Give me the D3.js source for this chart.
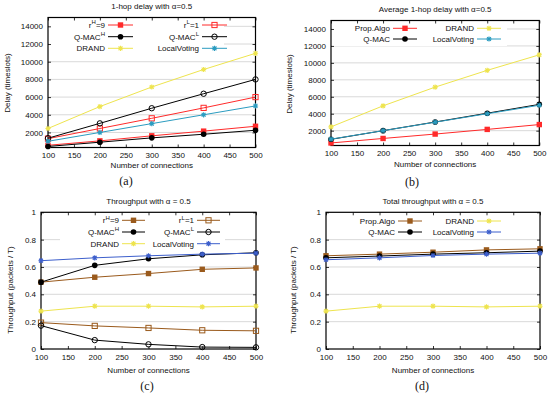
<!DOCTYPE html>
<html>
<head>
<meta charset="utf-8">
<script src="https://cdn.jsdelivr.net/npm/d3@7"></script>
<style>
  body { margin: 0; background: #fff; }
  svg text { font-family: "Liberation Sans", Arial, sans-serif; }
  .sub { font-family: "Liberation Serif", "DejaVu Serif", serif; }
</style>
</head>
<body>
<div id="chart"></div>
<script>
// x values shared by every panel
var connections = [100, 200, 300, 400, 500];
var xTicks = [100, 150, 200, 250, 300, 350, 400, 450, 500];
var delayTicks = [2000, 4000, 6000, 8000, 10000, 12000, 14000];
var thrTicks = [0, 0.2, 0.4, 0.6, 0.8, 1];

// (a) 1-hop delay
var delayRH = [550, 1050, 1620, 2150, 2700];
var delayRL = [1300, 2450, 3600, 4780, 6000];
var delayQmacH = [420, 900, 1390, 1800, 2250];
var delayQmacL = [1350, 3030, 4740, 6380, 8000];
var delayDrand = [2450, 4930, 7140, 9120, 10950];
var delayLocalVoting = [1000, 2000, 3000, 4000, 5000];

// (b) average 1-hop delay
var avgDelayProp = [550, 1080, 1600, 2150, 2720];
var avgDelayQmac = [980, 2000, 3020, 4060, 5100];
var avgDelayDrand = [2450, 4930, 7140, 9120, 10950];
var avgDelayLocalVoting = [1000, 2000, 3000, 4000, 5000];

// (c) throughput
var thrRH = [0.489, 0.525, 0.552, 0.583, 0.593];
var thrRL = [0.193, 0.169, 0.154, 0.137, 0.133];
var thrQmacH = [0.489, 0.612, 0.660, 0.689, 0.704];
var thrQmacL = [0.171, 0.065, 0.034, 0.014, 0.012];
var thrDrand = [0.277, 0.313, 0.313, 0.308, 0.313];
var thrLocalVoting = [0.646, 0.667, 0.682, 0.694, 0.701];

// (d) total throughput
var totProp = [0.682, 0.694, 0.708, 0.725, 0.733];
var totQmac = [0.667, 0.680, 0.694, 0.704, 0.716];
var totDrand = [0.277, 0.313, 0.313, 0.308, 0.313];
var totLocalVoting = [0.653, 0.667, 0.684, 0.694, 0.701];

var RED = "#ff2a2a", BLACK = "#000", YELLOW = "#eee44e", TEAL = "#2b9cc0",
    BLUE = "#3d5fcc", BROWN = "#9a5a1c";

var svg = d3.select("#chart").append("svg")
  .attr("width", 550).attr("height", 394);

function drawMarker(g, type, color, x, y) {
  if (type == "fsq") {
    g.append("rect").attr("x", x - 2.7).attr("y", y - 2.7).attr("width", 5.4).attr("height", 5.4).attr("fill", color);
  } else if (type == "osq") {
    g.append("rect").attr("x", x - 2.6).attr("y", y - 2.6).attr("width", 5.2).attr("height", 5.2)
      .attr("fill", "none").attr("stroke", color).attr("stroke-width", 1);
  } else if (type == "fci") {
    g.append("circle").attr("cx", x).attr("cy", y).attr("r", 2.8).attr("fill", color);
  } else if (type == "oci") {
    g.append("circle").attr("cx", x).attr("cy", y).attr("r", 2.7)
      .attr("fill", "none").attr("stroke", color).attr("stroke-width", 1);
  } else if (type == "star") {
    var s = 2.6;
    g.append("path")
      .attr("d", `M${x - s},${y}H${x + s}M${x},${y - s}V${y + s}M${x - s * 0.75},${y - s * 0.75}L${x + s * 0.75},${y + s * 0.75}M${x - s * 0.75},${y + s * 0.75}L${x + s * 0.75},${y - s * 0.75}`)
      .attr("stroke", color).attr("stroke-width", 1.1);
  }
}

function addLabel(t, label) {
  // label with optional superscript written as "base^sup^rest"
  var parts = label.split("^");
  t.append("tspan").text(parts[0]);
  if (parts.length > 1) {
    t.append("tspan").attr("font-size", "6px").attr("dy", "-3.5").text(parts[1]);
    if (parts[2]) t.append("tspan").attr("dy", "3.5").text(parts[2]);
  }
}

function drawPanel(p) {
  var g = svg.append("g");
  var x = d3.scaleLinear().domain([100, 500]).range([p.left, p.right]);
  var y = d3.scaleLinear().domain(p.yDomain).range([p.bottom, p.top]);

  // grid lines
  g.selectAll(".grid").data(p.yTicks.filter(d => y(d) > p.top + 1 && y(d) < p.bottom - 1))
    .enter().append("line")
    .attr("x1", p.left).attr("x2", p.right)
    .attr("y1", d => y(d)).attr("y2", d => y(d))
    .attr("stroke", "#cfcfcf").attr("stroke-width", 0.8);

  // legend background
  g.append("rect").attr("x", p.legBox[0]).attr("y", p.legBox[1])
    .attr("width", p.legBox[2]).attr("height", p.legBox[3]).attr("fill", "#fff");

  // axes (inward ticks, mirrored)
  var fmt = p.yFormat;
  g.append("g").attr("transform", `translate(0,${p.bottom})`)
    .call(d3.axisBottom(x).tickValues(xTicks).tickSize(-3).tickPadding(5).tickFormat(d3.format("d")));
  g.append("g").attr("transform", `translate(0,${p.top})`)
    .call(d3.axisTop(x).tickValues(xTicks).tickSize(-3).tickFormat(""));
  g.append("g").attr("transform", `translate(${p.left},0)`)
    .call(d3.axisLeft(y).tickValues(p.yTicks).tickSize(-3).tickPadding(5).tickFormat(fmt));
  g.append("g").attr("transform", `translate(${p.right},0)`)
    .call(d3.axisRight(y).tickValues(p.yTicks).tickSize(-3).tickFormat(""));
  g.selectAll(".domain").remove();
  g.selectAll(".tick line").attr("stroke", "#000").attr("stroke-width", 0.8);
  g.selectAll(".tick text").attr("font-size", "8px").attr("fill", "#111");

  // frame
  g.append("rect").attr("x", p.left).attr("y", p.top)
    .attr("width", p.right - p.left).attr("height", p.bottom - p.top)
    .attr("fill", "none").attr("stroke", "#000").attr("stroke-width", 1.2);

  // series
  var line = d3.line().x((d, i) => x(connections[i])).y(d => y(d));
  p.series.forEach(function(s) {
    g.append("path").datum(s.values).attr("d", line)
      .attr("fill", "none").attr("stroke", s.color).attr("stroke-width", 1);
    s.values.forEach(function(v, i) { drawMarker(g, s.marker, s.color, x(connections[i]), y(v)); });
  });

  // legend
  p.series.forEach(function(s, i) {
    var col = i % 2, row = Math.floor(i / 2);
    var ly = p.legRows[row];
    var lx = p.legCols[col];
    var t = g.append("text").attr("x", lx).attr("y", ly).attr("dy", "0.35em")
      .attr("text-anchor", "end").attr("font-size", "8px").attr("fill", "#111");
    addLabel(t, s.label);
    g.append("line").attr("x1", lx + 3).attr("x2", lx + 3 + p.legLen)
      .attr("y1", ly).attr("y2", ly).attr("stroke", s.color).attr("stroke-width", 1);
    drawMarker(g, s.marker, s.color, lx + 3 + p.legLen / 2, ly);
  });

  // titles
  var mid = (p.left + p.right) / 2;
  g.append("text").attr("x", p.titleX || mid).attr("y", p.titleY).attr("dy", "0.35em")
    .attr("text-anchor", "middle").attr("font-size", "8px").attr("fill", "#111").text(p.title);
  g.append("text").attr("x", mid).attr("y", p.xLabelY).attr("dy", "0.35em")
    .attr("text-anchor", "middle").attr("font-size", "8px").attr("fill", "#111").text("Number of connections");
  g.append("text").attr("transform", `translate(${p.yLabelX},${p.yLabelY}) rotate(-90)`)
    .attr("dy", "0.35em").attr("text-anchor", "middle").attr("font-size", "8px").attr("fill", "#111").text(p.yLabel);
  g.append("text").attr("class", "sub").attr("x", p.subX).attr("y", p.subY).attr("dy", "0.35em")
    .attr("text-anchor", "middle").attr("font-size", "12px").attr("fill", "#111").text(p.sub);
}

var delayFmt = d3.format("d");
var thrFmt = function(d) { return d == 0 ? "0" : d == 1 ? "1" : d3.format(".1f")(d); };

drawPanel({
  left: 48, right: 255.5, top: 17.5, bottom: 147.5, yDomain: [300, 15000], yTicks: delayTicks, yFormat: delayFmt,
  title: "1-hop delay with \u03b1=0.5", titleY: 6, xLabelY: 165, yLabel: "Delay (timeslots)", yLabelX: 7, yLabelY: 83,
  sub: "(a)", subX: 126, subY: 181,
  legBox: [49, 19, 175, 36], legRows: [25, 36.7, 48.3], legCols: [105, 199], legLen: 25,
  series: [
    {label: "r^H^=9", values: delayRH, color: RED, marker: "fsq"},
    {label: "r^L^=1", values: delayRL, color: RED, marker: "osq"},
    {label: "Q-MAC^H", values: delayQmacH, color: BLACK, marker: "fci"},
    {label: "Q-MAC^L", values: delayQmacL, color: BLACK, marker: "oci"},
    {label: "DRAND", values: delayDrand, color: YELLOW, marker: "star"},
    {label: "LocalVoting", values: delayLocalVoting, color: TEAL, marker: "star"}
  ]
});

drawPanel({
  left: 331, right: 539.3, top: 20.5, bottom: 145.5, yDomain: [250, 15000], yTicks: delayTicks, yFormat: delayFmt,
  title: "Average 1-hop delay with \u03b1=0.5", titleY: 9, xLabelY: 164, yLabel: "Delay (timeslots)", yLabelX: 289, yLabelY: 84,
  sub: "(b)", subX: 412, subY: 182,
  legBox: [332, 22, 175, 24], legRows: [28.3, 39], legCols: [390, 474], legLen: 24,
  series: [
    {label: "Prop.Algo", values: avgDelayProp, color: RED, marker: "fsq"},
    {label: "DRAND", values: avgDelayDrand, color: YELLOW, marker: "star"},
    {label: "Q-MAC", values: avgDelayQmac, color: BLACK, marker: "fci"},
    {label: "LocalVoting", values: avgDelayLocalVoting, color: TEAL, marker: "star"}
  ]
});

drawPanel({
  left: 41, right: 256, top: 212.3, bottom: 349, yDomain: [0, 1], yTicks: thrTicks, yFormat: thrFmt,
  title: "Throughput with \u03b1 = 0.5", titleY: 201, xLabelY: 370, yLabel: "Throughput (packets / T)", yLabelX: 10.5, yLabelY: 290,
  sub: "(c)", subX: 147, subY: 386,
  legBox: [60, 214, 165, 36], legRows: [220.3, 232, 243.7], legCols: [119, 194], legLen: 23,
  series: [
    {label: "r^H^=9", values: thrRH, color: BROWN, marker: "fsq"},
    {label: "r^L^=1", values: thrRL, color: BROWN, marker: "osq"},
    {label: "Q-MAC^H", values: thrQmacH, color: BLACK, marker: "fci"},
    {label: "Q-MAC^L", values: thrQmacL, color: BLACK, marker: "oci"},
    {label: "DRAND", values: thrDrand, color: YELLOW, marker: "star"},
    {label: "LocalVoting", values: thrLocalVoting, color: BLUE, marker: "star"}
  ]
});

drawPanel({
  left: 326, right: 540, top: 212.3, bottom: 349, yDomain: [0, 1], yTicks: thrTicks, yFormat: thrFmt,
  title: "Total throughput with \u03b1 = 0.5", titleY: 201, xLabelY: 370, yLabel: "Throughput (packets / T)", yLabelX: 293, yLabelY: 290,
  sub: "(d)", subX: 422, subY: 386,
  legBox: [350, 214, 160, 25], legRows: [221, 232], legCols: [395, 474], legLen: 24,
  series: [
    {label: "Prop.Algo", values: totProp, color: BROWN, marker: "fsq"},
    {label: "DRAND", values: totDrand, color: YELLOW, marker: "star"},
    {label: "Q-MAC", values: totQmac, color: BLACK, marker: "fci"},
    {label: "LocalVoting", values: totLocalVoting, color: BLUE, marker: "star"}
  ]
});
</script>
</body>
</html>
